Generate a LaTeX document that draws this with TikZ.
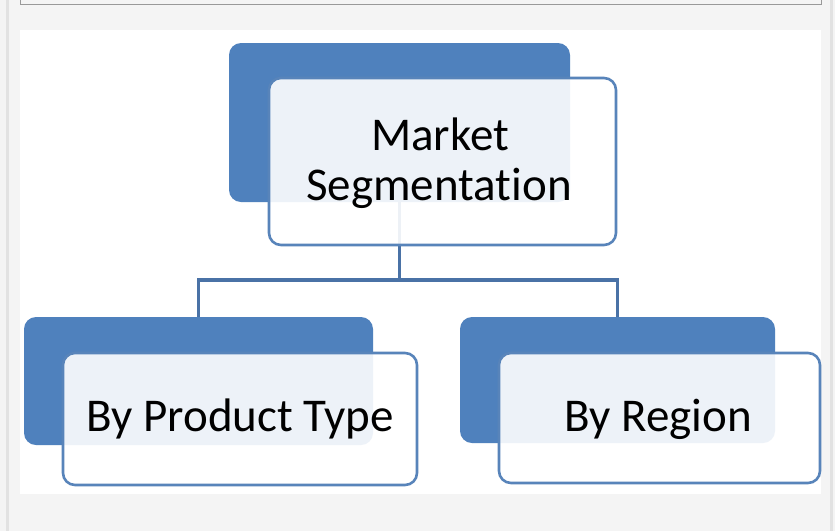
\documentclass[tikz,border=0pt]{standalone}
\usepackage{fontspec}
\setmainfont{Carlito}[RawFeature=-liga]
\definecolor{pagebg}{HTML}{F4F4F4}
\definecolor{bandgray}{HTML}{E2E2E2}
\definecolor{backblue}{HTML}{4F81BD}
\definecolor{edgeblue}{HTML}{5884BA}
\definecolor{linkblue}{HTML}{4A72A6}
\tikzset{
  backbox/.style={rectangle, rounded corners=12pt, fill=backblue, draw=none, inner sep=0pt},
  frontbox/.style={rectangle, rounded corners=12pt, fill=white, fill opacity=0.9, draw=edgeblue, line width=2.6pt, inner sep=0pt},
  lbl/.style={anchor=base, inner sep=0pt, font=\fontsize{47}{50}\selectfont, text=black},
  link/.style={draw=linkblue, line width=3.2pt}
}
\begin{document}
\begin{tikzpicture}[x=1pt,y=-1pt]
\useasboundingbox (0,0) rectangle (835,531);
\fill[pagebg] (0,0) rectangle (835,531);
\fill[bandgray] (6,0) rectangle (9,531);
\fill[bandgray] (830,0) rectangle (833,531);
\draw[draw=gray!80, line width=1pt, fill=pagebg] (20,-5) rectangle (821,4);
\fill[white] (20,30) rectangle (821,494);
% back boxes
\node[backbox, minimum width=341pt, minimum height=159pt] (tb) at (399.5,122.5) {};
\node[backbox, minimum width=349pt, minimum height=128pt] (lb) at (198.5,381) {};
\node[backbox, minimum width=315pt, minimum height=126pt] (rb) at (617.5,380) {};
% connectors
\coordinate (hub) at (399.5,280);
\draw[link] (tb.south) -- (hub);
\draw[link, line join=miter] (lb.north) |- (hub) -| (rb.north);
% front boxes
\node[frontbox, minimum width=347pt, minimum height=167pt] (tf) at (442.5,161.5) {};
\node[frontbox, minimum width=354pt, minimum height=132pt] (lf) at (240,419) {};
\node[frontbox, minimum width=321pt, minimum height=130pt] (rf) at (659.5,418) {};
% labels
\node[lbl] (t1) at (440,150) {Market};
\node[lbl] (t2) at (439,200) {Segmentation};
\node[lbl] (l1) at (240,431) {By Product Type};
\node[lbl] (r1) at (658,431) {By Region};
\end{tikzpicture}
\end{document}
